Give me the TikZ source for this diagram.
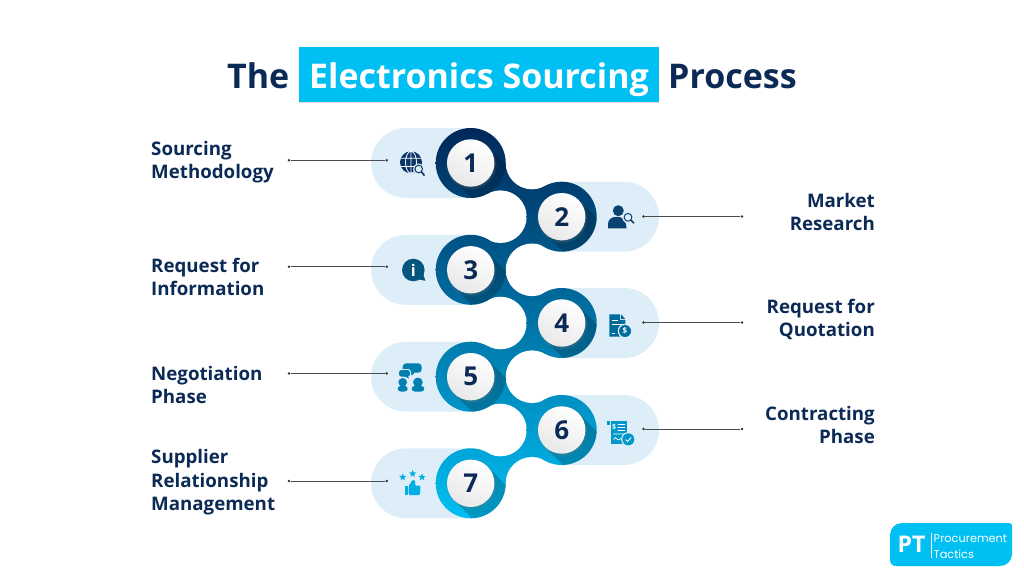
\documentclass[tikz,border=0pt]{standalone}
\usepackage{fontspec}
\setmainfont{Open Sans}
\newfontfamily\logofont{Poppins}
\usetikzlibrary{positioning, shapes.geometric, shadows, calc}

\definecolor{navytext}{HTML}{0B2A55}
\definecolor{skyblue}{HTML}{00BFF2}
\definecolor{pillblue}{HTML}{DEEEF9}
\definecolor{flowtop}{HTML}{00285A}
\definecolor{flowmid}{HTML}{0070A0}
\definecolor{flowbot}{HTML}{00BFF3}
\definecolor{iconA}{HTML}{0A3566}
\definecolor{iconB}{HTML}{0A4272}
\definecolor{iconC}{HTML}{05567F}
\definecolor{iconD}{HTML}{006C9C}
\definecolor{iconE}{HTML}{007FB0}
\definecolor{iconF}{HTML}{0098CB}
\definecolor{iconG}{HTML}{00AEE3}

\begin{document}
\begin{tikzpicture}[x=1pt, y=-1pt]
	\tikzstyle{titleword}=[anchor=base west, inner sep=0, text=navytext, font=\fontsize{34}{34}\selectfont\bfseries]
	\tikzstyle{titlebox}=[fill=skyblue, minimum width=360pt, minimum height=55pt, inner sep=0, text height=32pt, text depth=5pt, text=white, font=\fontsize{34}{34}\selectfont\bfseries, drop shadow={shadow xshift=0pt, shadow yshift=-1pt, opacity=.25}]
	\tikzstyle{numdisc}=[circle, minimum size=47.4pt, inner sep=0, shading=axis, top color=white, bottom color=black!9, shading angle=-30, text=navytext, font=\fontsize{26}{26}\selectfont\bfseries, circular drop shadow={shadow xshift=0.3pt, shadow yshift=-0.8pt, opacity=.3}]
	\tikzstyle{leftlabel}=[anchor=west, align=left, inner sep=0, text=navytext, font=\fontsize{18.7}{23.5}\selectfont\bfseries]
	\tikzstyle{rightlabel}=[anchor=east, align=right, inner sep=0, text=navytext, font=\fontsize{18.7}{23.5}\selectfont\bfseries]
	\tikzstyle{leaddot}=[circle, fill=black!80, minimum size=2.8pt, inner sep=0]
	\tikzstyle{leadline}=[draw=black!70, line width=0.7pt]
	\tikzstyle{pill}=[fill=pillblue, rounded corners=35pt]
	\tikzstyle{glass}=[line width=1pt, fill=pillblue]

	\useasboundingbox (0,0) rectangle (1024,576);
	\fill[white] (0,0) rectangle (1024,576);

	% title
	\node[titleword] (ttlthe) at (227,88) {The};
	\node[titlebox] (ttlbox) at (479,74.5) {Electronics Sourcing};
	\node[titleword] (ttlproc) at (668,88) {Process};

	% pills behind the discs
	\foreach \py in {163,269.8,376.7,483.3}
		\fill[pill] (371,\py-35) rectangle (505.7,\py+35);
	\foreach \py in {216.7,323,430}
		\fill[pill] (526.7,\py-35) rectangle (659,\py+35);

	\coordinate (c1) at (470.7,163);
	\coordinate (c2) at (561.7,216.7);
	\coordinate (c3) at (470.7,269.8);
	\coordinate (c4) at (561.7,323);
	\coordinate (c5) at (470.7,376.7);
	\coordinate (c6) at (561.7,430);
	\coordinate (c7) at (470.7,483.3);
	\coordinate (w0) at (532,163);
	\coordinate (w1) at (500.4,216.7);
	\coordinate (w2) at (532,269.8);
	\coordinate (w3) at (500.4,323);
	\coordinate (w4) at (532,376.7);
	\coordinate (w5) at (500.4,430);
	\coordinate (w6) at (532,483.3);

	% necks, then the white bites
	\foreach \i [evaluate=\i as \j using int(\i+1), evaluate=\i as \k using int(\i-1)] in {1,...,6} {
		\begin{scope}
			\clip (c\i) -- (w\k) -- (c\j) -- (w\i) -- cycle;
			\shade[top color=flowtop, middle color=flowmid, bottom color=flowbot] (360,128) rectangle (670,518.5);
		\end{scope}
	}
	\foreach \i in {0,...,6}
		\fill[white] (w\i) circle (26.3);

	% discs with their long shadow
	\foreach \i in {1,...,7} {
		\begin{scope}
			\clip (c\i) circle (35);
			\shade[top color=flowtop, middle color=flowmid, bottom color=flowbot] (360,128) rectangle (670,518.5);
			\fill[black, opacity=.2] ($(c\i)+(16.8,-16.8)$) -- ++(40,40) -- ($(c\i)+(-16.8,16.8)+(40,40)$) -- ($(c\i)+(-16.8,16.8)$) -- cycle;
		\end{scope}
	}

	\foreach \i in {1,...,7}
		\node[numdisc] (num\i) at (c\i) {\i};

	% labels and leader lines
	\node[leftlabel] (lblsm) at (151,162) {Sourcing\\Methodology};
	\node[rightlabel] (lblmr) at (875,212) {Market\\Research};
	\node[leftlabel] (lblrfi) at (151,277) {Request for\\Information};
	\node[rightlabel] (lblrfq) at (875,319.5) {Request for\\Quotation};
	\node[leftlabel] (lblneg) at (151,385) {Negotiation\\Phase};
	\node[rightlabel] (lblcon) at (875,425) {Contracting\\Phase};
	\node[leftlabel] (lblsrm) at (151,482.5) {Supplier\\Relationship\\Management};

	\foreach \nm/\xa/\xb/\ly in {a/289/386.7/160.3, b/742/643.5/216.5, c/289/386.7/266.7, d/742/643.5/322.5, e/289/386.7/373.4, f/742/643.5/429, g/289/386.7/481} {
		\node[leaddot] (dot\nm1) at (\xa,\ly) {};
		\node[leaddot] (dot\nm2) at (\xb,\ly) {};
		\draw[leadline] (dot\nm1) -- (dot\nm2);
	}

	% globe with glass
	\fill[iconA] (411,162.3) circle (11);
	\draw[white, line width=0.8pt] (400.4,158.3) -- (421.6,158.3) (400.4,166.5) -- (421.6,166.5) (411,151.3) -- (411,173.3) (411,162.3) ellipse (5.5 and 11);
	\fill[pillblue] (418.7,169) circle (5.6);
	\draw[iconA, glass] (418.7,169) circle (3.8);
	\draw[iconA, line width=1.6pt] (421.4,171.8) -- (424.5,175.5);

	% person with glass
	\fill[iconB] (618.3,210.7) circle (5.5);
	\fill[iconB] (608,228.3) -- (608,224) .. controls (608,219) and (612,216.8) .. (617,216.8) .. controls (622,216.8) and (626,219) .. (626.5,228.3) -- cycle;
	\fill[pillblue] (628,217.3) circle (5.8);
	\draw[iconB, glass] (628,217.3) circle (3.9);
	\draw[iconB, line width=1.6pt] (630.8,220) -- (634,223.2);

	% info bubble
	\fill[iconC] (413.3,270) circle (11.3);
	\fill[iconC] (417,279) -- (425.3,280.8) -- (423,273) -- cycle;
	\node[inner sep=0, text=white, font=\fontsize{16}{16}\selectfont\bfseries] (infoi) at (413.3,270) {i};

	% quotation sheet
	\fill[iconD] (609.3,314.3) -- (620,314.3) -- (620,320) -- (625.3,320) -- (625.3,336.7) -- (609.3,336.7) -- cycle;
	\fill[iconD] (621,314.3) -- (625.3,319) -- (621,319) -- cycle;
	\draw[white, line width=0.8pt] (611.5,320.5) -- (618,320.5) (611.5,324.5) -- (622,324.5) (611.5,333.5) -- (614.5,333.5);
	\fill[pillblue] (625,331) circle (7.3);
	\fill[iconD] (625,331) circle (6);
	\node[inner sep=0, text=white, font=\fontsize{8}{8}\selectfont\bfseries] (quotecash) at (625,331) {\$};

	% two people talking
	\fill[iconE, rounded corners=3.5pt] (402.7,363.3) rectangle (421.7,372.7);
	\fill[iconE] (409,372) -- (415,372) -- (412,375.5) -- cycle;
	\fill[pillblue, rounded corners=3pt] (398,369) rectangle (411,378.2);
	\fill[iconE, rounded corners=2.5pt] (399,370) rectangle (410,376.6);
	\fill[iconE] (404,376) -- (408,376) -- (409,378.5) -- cycle;
	\fill[iconE] (402.7,382.3) circle (4.3);
	\fill[iconE, rounded corners=3pt] (397.7,385.9) rectangle (407.7,391.5);
	\fill[iconE] (417.9,382.3) circle (4.8);
	\fill[iconE, rounded corners=3pt] (411.7,385.9) rectangle (424.3,391.5);

	% contract sheet
	\fill[iconF] (607,421.3) rectangle (610,424.5);
	\fill[iconF] (611,421.3) rectangle (627.3,443.7);
	\draw[white, line width=0.7pt] (617.5,424.5) -- (625,424.5) (617.5,427.5) -- (625,427.5) (617.5,430.5) -- (625,430.5) (613,434) -- (625,434) (613.5,439.5) .. controls (615,437) and (616,437) .. (617,439) .. controls (618,440.5) and (619,440) .. (621,438.5);
	\node[inner sep=0, text=white, font=\fontsize{7}{7}\selectfont\bfseries] (contractcash) at (614,427) {\$};
	\fill[pillblue] (628.3,439.3) circle (7.2);
	\fill[iconF] (628.3,439.3) circle (6);
	\draw[white, line width=0.9pt] (625.6,439.5) -- (627.6,441.5) -- (631.2,437.5);

	% thumb and stars
	\foreach \nm/\sx/\sy in {a/402.7/477.2, b/412.7/473.7, c/422/477.2}
		\node[star, star points=5, star point ratio=2.3, fill=iconG, minimum size=7.5pt, inner sep=0] (star\nm) at (\sx,\sy) {};
	\fill[iconG] (404.7,485.7) rectangle (407.7,495);
	\fill[iconG, rounded corners=1.2pt] (408.7,486) -- (412.3,480) -- (415,480) -- (415,485.5) -- (420.5,485.5) -- (420,495) -- (408.7,495) -- cycle;

	% logo
	\fill[skyblue] (902,523) -- (1009,523) .. controls (1011,523) and (1012,524) .. (1012,526) -- (1012,554) arc[start angle=0, end angle=90, radius=12] -- (896,566) .. controls (892.5,566) and (890,563.5) .. (890,560) -- (890,535) arc[start angle=180, end angle=270, radius=12] -- cycle;
	\node[inner sep=0, text=white, font=\fontsize{23}{23}\selectfont\bfseries] (logopt) at (911.5,544.5) {PT};
	\node[inner sep=0, anchor=base west, text=white, font=\logofont\fontsize{11.3}{11.3}\selectfont] (logoa) at (933.5,542) {Procurement};
	\node[inner sep=0, anchor=base west, text=white, font=\logofont\fontsize{11.3}{11.3}\selectfont] (logob) at (933.5,558) {Tactics};
	\draw[white, line width=0.5pt] (logopt.east) ++(6,-12) -- ++(0,25);
\end{tikzpicture}
\end{document}
